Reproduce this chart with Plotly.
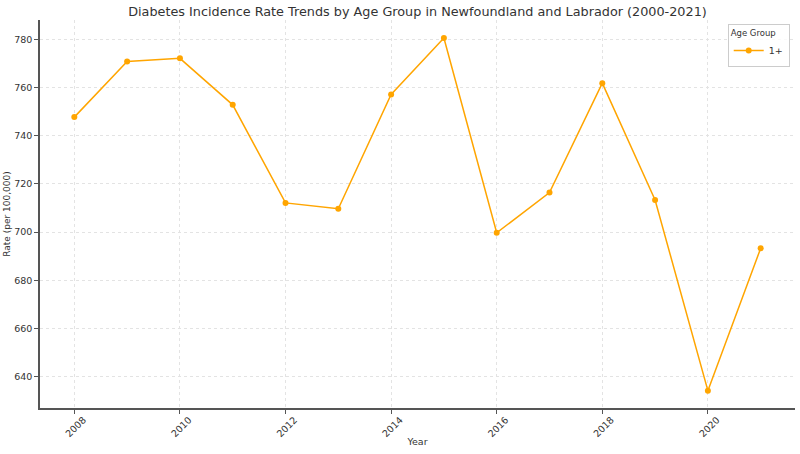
import plotly.graph_objects as go

years = [2008, 2009, 2010, 2011, 2012, 2013, 2014, 2015, 2016, 2017, 2018, 2019, 2020, 2021]
rates = [747.7, 770.8, 772.1, 752.8, 712.1, 709.7, 757.1, 780.5, 699.7, 716.4, 761.8, 713.3, 634.2, 693.3]
series_name = "1+"
x_ticks = [2008, 2010, 2012, 2014, 2016, 2018, 2020]
y_ticks = [640, 660, 680, 700, 720, 740, 760, 780]

font_family = "DejaVu Sans"

fig = go.Figure()
fig.add_trace(go.Scatter(
    x=years, y=rates, mode="lines+markers", name=series_name,
    line=dict(color="#FFA500", width=1.5),
    marker=dict(color="#FFA500", size=6),
))

fig.update_layout(
    width=800, height=454,
    margin=dict(l=40, r=5, t=20, b=46),
    paper_bgcolor="white", plot_bgcolor="white",
    font=dict(family=font_family, size=10, color="#333"),
    title=dict(text="Diabetes Incidence Rate Trends by Age Group in Newfoundland and Labrador (2000-2021)",
               x=0.5, xref="paper", xanchor="center", y=0.975, yanchor="middle",
               font=dict(size=12.8, color="#333")),
    showlegend=True,
    legend=dict(
        title=dict(text="Age Group", font=dict(size=8.5, color="#333"), side="top"),
        x=0.993, y=0.99, xanchor="right", yanchor="top",
        bordercolor="#ccc", borderwidth=1, bgcolor="rgba(255,255,255,0.8)",
        font=dict(size=9.5, color="#333"),
        itemwidth=30, tracegroupgap=0,
    ),
    xaxis=dict(
        title=dict(text="Year", font=dict(size=9.5, color="#333"), standoff=0),
        range=[2007.35, 2021.65], tickvals=x_ticks, tickangle=-45,
        showgrid=True, gridcolor="#e3e3e3", griddash="dot", gridwidth=1,
        showline=True, linecolor="#555", linewidth=1.5,
        ticks="outside", ticklen=4, tickcolor="#555",
        tickfont=dict(size=9.5, color="#333"), zeroline=False, automargin=False,
        ticklabelshift=9, ticklabelstandoff=-3,
    ),
    yaxis=dict(
        title=dict(text="Rate (per 100,000)", font=dict(size=9, color="#333"), standoff=2),
        range=[627.0, 788.0], tickvals=y_ticks,
        showgrid=True, gridcolor="#e3e3e3", griddash="dot", gridwidth=1,
        showline=True, linecolor="#555", linewidth=1.5,
        ticks="outside", ticklen=4, tickcolor="#555",
        tickfont=dict(size=9.5, color="#333"), zeroline=False, automargin=False,
    ),
)

fig.write_html("out.html")
